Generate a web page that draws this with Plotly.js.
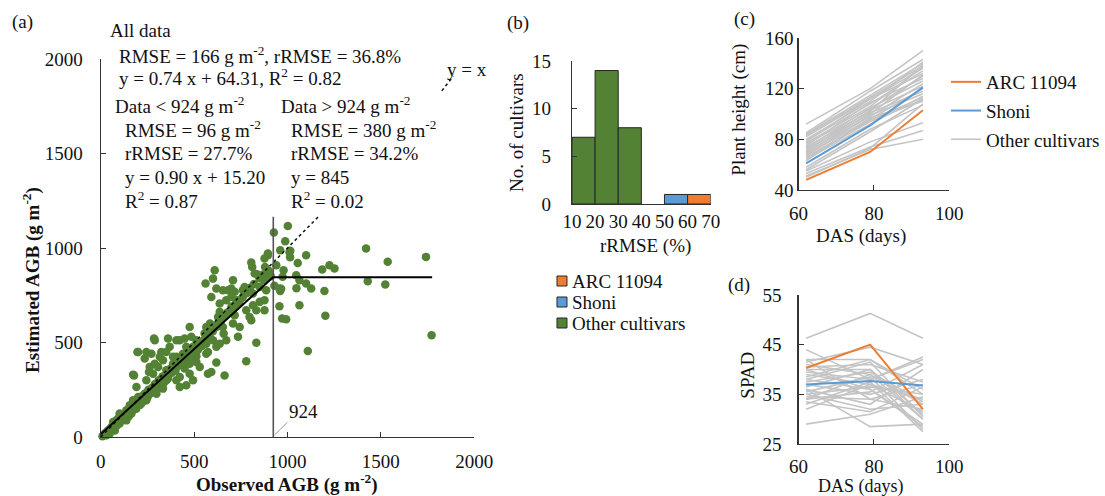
<!DOCTYPE html>
<html>
<head>
<meta charset="utf-8">
<script src="https://cdn.plot.ly/plotly-3.0.1.min.js"></script>
<style>html,body{margin:0;padding:0;background:#fff}#chart{width:1105px;height:496px}</style>
</head>
<body>
<div id="chart"></div>
<script>
// ---------------- DATA ----------------
// (a) Observed vs estimated AGB (g m-2)
const obsAGB = [
 1002,927,988,1015,961,1011,895,1100,1014,1055,940,979,1225,1252,1186,1421,1537,1742,1430,1524,
 974,1047,1064,1100,1127,1048,966,957,1198,961,1064,957,1203,971,993,1109,1772,930,
 877,895,806,811,824,874,886,877,877,833,815,851,770,761,726,708,699,681,717,654,
 672,619,601,610,561,592,637,637,628,708,717,708,779,797,806,654,619,585,565,565,
 583,601,658,672,735,833,779,663,619,565,574,592,574,530,512,494,485,458,467,449,
 476,512,440,423,405,423,449,405,423,369,360,333,351,316,289,289,307,351,316,333,
 298,244,235,262,280,244,271,235,226,200,178,191,200,173,155,164,137,119,101,84,
 66,57,39,21,9,30,48,75,101,137,155,217,244,262,298,324,369,387,405,476,
 512,530,565,423,405,351,387,324,476,494,458,503,556,619,637,744,699,744,815,851,
 196,271,173,258,285,
 30,45,60,70,85,95,110,120,130,145,150,160,170,180,190,205,210,220,230,240,
 250,255,265,275,280,290,300,310,320,330,340,350,360,370,380,390,400,410,420,430,
 440,450,460,470,480,490,500,520,540,550,580,600,620,640,660,680,700,720,740,760,
 780,800,820,850,870,900,910,880,840
];
const estAGB = [
 1117,1082,1036,985,988,977,962,962,951,921,909,882,909,891,886,997,927,953,824,807,
 848,856,830,812,786,787,785,786,773,773,697,692,641,627,623,455,538,800,
 944,971,923,900,865,830,777,724,671,671,697,715,794,777,724,830,786,777,768,777,
 724,786,838,882,812,741,706,662,635,671,644,600,671,635,618,582,582,600,582,556,
 530,512,547,512,530,499,401,326,394,441,450,344,335,371,427,477,530,477,424,521,
 582,512,441,397,424,318,362,300,265,477,521,406,353,424,512,388,371,300,291,256,
 274,450,415,371,335,300,247,229,203,450,326,265,212,194,168,124,141,106,124,88,
 79,53,35,18,4,9,18,35,71,88,141,177,194,229,229,265,335,388,371,388,
 397,494,494,512,512,450,424,450,335,300,274,441,547,477,494,582,741,724,759,794,
 450,441,330,344,521,
 25,40,45,70,60,100,90,115,100,130,110,150,140,165,150,190,170,215,190,230,
 210,250,230,260,240,280,255,300,280,320,290,330,310,360,340,370,350,400,380,420,
 390,430,410,450,420,470,440,460,480,510,540,560,590,610,640,660,690,700,710,740,
 760,790,810,840,860,880,850,900,860
];
// fitted relations reported in (a)
const breakPoint = 924;
const fitSlope = 0.90, fitIntercept = 15.20;
const plateau = 845;
const plateauEnd = 1775;

// (b) histogram of per-cultivar rRMSE (%)
const binEdges = [10, 20, 30, 40, 50, 60, 70];
const otherCounts = [7, 14, 8, 0, 0, 0];
const shoniCounts = [0, 0, 0, 0, 1, 0];
const arcCounts   = [0, 0, 0, 0, 0, 1];

// (c),(d) time series
const das = [62, 79, 93];
const heightARC = [48, 70, 103];
const heightShoni = [61, 91, 121];
const heightOther = [
 [92,120,150],[85,118,143],[84,115,140],[83,113,138],[82,112,136],[80,110,141],
 [79,108,134],[78,112,132],[77,106,137],[76,104,130],[75,109,128],[74,102,139],
 [73,105,126],[72,100,131],[71,103,122],[70,98,124],[69,101,118],[68,96,120],
 [67,99,116],[66,95,113],[65,94,111],[64,92,114],[63,97,110],[58,88,107],
 [56,86,112],[55,78,93],[53,74,87],[51,72,80],[50,73,108]
];
const spadARC = [40.3, 45, 32];
const spadShoni = [37, 37.7, 36.8];
const spadOther = [
 [46.3,51.3,46.3],[44,38,42.5],[42,42,35],[41.5,44.5,41],[41,39,33],[40.5,41,37.5],
 [40,40,30],[39.5,38,42],[39,37,34],[38.5,42,36],[38,36,29],[37.5,39.5,33.5],
 [37,35,38],[36.5,40,31],[36,33,40],[35.5,38.5,28],[35,36.5,35],[34.5,34,32],
 [34,39,30],[33.5,31.5,36.5],[33,37.5,27.5],[35,32,33],[36,28.5,29],[34,35.5,41],
 [32,37,31.5],[29,31,34.5],[38,41.5,30.5],[40,36,28.5],[42,34,37]
];

// ---------------- STYLE ----------------
const W = 1105, H = 496;
const FONT = '"Liberation Serif", "Times New Roman", serif';
const ORANGE = '#ED7D31', BLUE = '#5B9BD5', GREEN = '#548235', GRAY = '#C4C4C4';
const fx = p => p / W, fy = p => 1 - p / H;

const traces = [];
// (a)
traces.push({type:'scatter', mode:'markers', x: obsAGB, y: estAGB, xaxis:'x', yaxis:'y',
  marker:{color:GREEN, size:8.5}, cliponaxis:false, showlegend:false});

// (b) bars
const centers = binEdges.slice(0,-1).map((e,i)=> (e + binEdges[i+1]) / 2);
function barTrace(counts, color, name){
  const xs=[], ys=[];
  counts.forEach((c,i)=>{ if(c>0){ xs.push(centers[i]); ys.push(c);} });
  return {type:'bar', x:xs, y:ys, width:10, name:name, xaxis:'x2', yaxis:'y2',
    marker:{color:color, line:{color:'#262626', width:1}}, showlegend:false};
}
traces.push(barTrace(otherCounts, GREEN, 'Other cultivars'));
traces.push(barTrace(shoniCounts, BLUE, 'Shoni'));
traces.push(barTrace(arcCounts, ORANGE, 'ARC 11094'));

// (c) & (d) gray lines
heightOther.forEach((v,i)=>traces.push({type:'scatter', mode:'lines', x:das, y:v, xaxis:'x3', yaxis:'y3',
  line:{color:GRAY, width:1.6}, name:'Other cultivars', legendgroup:'other', legendrank:3, showlegend:i===0}));
spadOther.forEach(v=>traces.push({type:'scatter', mode:'lines', x:das, y:v, xaxis:'x4', yaxis:'y4',
  line:{color:GRAY, width:1.6}, showlegend:false}));
traces.push({type:'scatter', mode:'lines', x:das, y:heightARC, xaxis:'x3', yaxis:'y3',
  line:{color:ORANGE, width:2}, name:'ARC 11094', legendgroup:'arc', legendrank:1});
traces.push({type:'scatter', mode:'lines', x:das, y:heightShoni, xaxis:'x3', yaxis:'y3',
  line:{color:BLUE, width:2}, name:'Shoni', legendgroup:'shoni', legendrank:2});
traces.push({type:'scatter', mode:'lines', x:das, y:spadARC, xaxis:'x4', yaxis:'y4',
  line:{color:ORANGE, width:2}, showlegend:false});
traces.push({type:'scatter', mode:'lines', x:das, y:spadShoni, xaxis:'x4', yaxis:'y4',
  line:{color:BLUE, width:2}, showlegend:false});

// ---------------- LAYOUT ----------------
function ax(domainPx, range, tickvals, anchor, standoff, extra){
  return Object.assign({domain: domainPx, range: range, tickvals: tickvals, anchor: anchor,
    ticks:'inside', ticklen:5, tickcolor:'#333', showline:true, linecolor:'#333', linewidth:1.2,
    showgrid:false, zeroline:false, tickangle:0, ticklabelstandoff: standoff,
    tickfont:{family:FONT, size:19, color:'#111'}, fixedrange:true}, extra||{});
}
const xa = [fx(101), fx(475)], ya = [fy(437), fy(59)];
const xb = [fx(573), fx(712)], yb = [fy(204), fy(61)];
const xc = [fx(800), fx(951)], yc = [fy(190), fy(38)];
const yd = [fy(444), fy(295)];

function ann(text, px, py, o){
  return Object.assign({text:text, x:fx(px), y:fy(py), xref:'paper', yref:'paper',
    xanchor:'left', yanchor:'middle', showarrow:false,
    font:{family:FONT, size:19, color:'#111'}}, o||{});
}
const sup2 = ' g m<sup>-2</sup>';
const annotations = [
  ann('(a)', 10, 22),
  ann('All data', 108, 30),
  ann('RMSE = 166' + sup2 + ', rRMSE = 36.8%', 117, 55),
  ann('y = 0.74 x + 64.31, R<sup>2</sup> = 0.82', 117, 77),
  ann('Data &lt; 924' + sup2, 113, 105),
  ann('RMSE = 96' + sup2, 123, 129),
  ann('rRMSE = 27.7%', 123, 153),
  ann('y = 0.90 x + 15.20', 123, 177),
  ann('R<sup>2</sup> = 0.87', 123, 200),
  ann('Data &gt; 924' + sup2, 280, 105),
  ann('RMSE = 380' + sup2, 290, 129),
  ann('rRMSE = 34.2%', 290, 153),
  ann('y = 845', 290, 177),
  ann('R<sup>2</sup> = 0.02', 290, 200),
  ann('y = x', 446, 69),
  ann('924', 304, 411, {xanchor:'center'}),
  ann('<b>Observed AGB (g m<sup>-2</sup>)</b>', 288, 483, {xanchor:'center'}),
  ann('<b>Estimated AGB (g m<sup>-2</sup>)</b>', 31, 280, {xanchor:'center', textangle:-90}),
  ann('(b)', 506, 23),
  ann('No. of cultivars', 518, 133, {xanchor:'center', textangle:-90}),
  ann('rRMSE (%)', 647, 246, {xanchor:'center'}),
  ann('ARC 11094', 571, 281),
  ann('Shoni', 571, 302),
  ann('Other cultivars', 571, 323),
  ann('(c)', 733, 19),
  ann('Plant height (cm)', 740, 110, {xanchor:'center', textangle:-90}),
  ann('DAS (days)', 863, 236, {xanchor:'center'}),
  ann('(d)', 727, 285),
  ann('SPAD', 748, 375, {xanchor:'center', textangle:-90}),
  ann('DAS (days)', 863, 486, {xanchor:'center', font:{family:FONT, size:18, color:'#111'}})
];

function legSquare(color, cy){
  return {type:'rect', xref:'paper', yref:'paper', x0:fx(558), x1:fx(568), y0:fy(cy+5), y1:fy(cy-5),
    fillcolor:color, line:{color:'#262626', width:1}};
}
const shapes = [
  // y = x reference (dotted)
  {type:'line', xref:'x', yref:'y', x0:0, y0:0, x1:1175, y1:1175, line:{color:'#111', width:1.5, dash:'dot'}, layer:'above'},
  {type:'line', xref:'x', yref:'y', x0:1827, y0:1832, x1:1888, y1:1909, line:{color:'#111', width:1.5, dash:'dot'}, layer:'above'},
  // threshold
  {type:'line', xref:'x', yref:'y', x0:breakPoint, y0:0, x1:breakPoint, y1:1165, line:{color:'#555', width:1.6}, layer:'above'},
  // fitted lines
  {type:'line', xref:'x', yref:'y', x0:0, y0:fitIntercept, x1:breakPoint, y1:fitSlope*breakPoint+fitIntercept, line:{color:'#000', width:2}, layer:'above'},
  {type:'line', xref:'x', yref:'y', x0:breakPoint, y0:plateau, x1:plateauEnd, y1:plateau, line:{color:'#000', width:2}, layer:'above'},
  // leader for "924"
  {type:'line', xref:'x', yref:'y', x0:930, y0:10, x1:1000, y1:78, line:{color:'#999', width:1}, layer:'above'},
  // legend squares for (b)
  legSquare(ORANGE, 281), legSquare(BLUE, 302), legSquare(GREEN, 323)
];

const layout = {
  width: W, height: H, margin:{l:0, r:0, t:0, b:0}, paper_bgcolor:'#fff', plot_bgcolor:'rgba(0,0,0,0)',
  font:{family:FONT, size:19, color:'#111'},
  barmode:'overlay', bargap:0,
  xaxis:  ax(xa, [0,2000], [0,500,1000,1500,2000], 'y', 7),
  yaxis:  ax(ya, [0,2000], [0,500,1000,1500,2000], 'x', 13),
  xaxis2: ax(xb, [10,70], binEdges, 'y2', 0, {ticks:''}),
  yaxis2: ax(yb, [0,15], [0,5,10,15], 'x2', 16),
  xaxis3: ax(xc, [60,100], [60,80,100], 'y3', 6),
  yaxis3: ax(yc, [40,160], [40,80,120,160], 'x3', 0),
  xaxis4: ax(xc, [60,100], [60,80,100], 'y4', 5),
  yaxis4: ax(yd, [25,55], [25,35,45,55], 'x4', 12),
  showlegend: true,
  legend:{x:fx(948), y:fy(63), xanchor:'left', yanchor:'top', bgcolor:'rgba(0,0,0,0)', borderwidth:0,
    font:{family:FONT, size:19, color:'#111'}, traceorder:'grouped', tracegroupgap:1},
  annotations: annotations,
  shapes: shapes
};

Plotly.newPlot('chart', traces, layout, {staticPlot:true, displayModeBar:false});
</script>
</body>
</html>
